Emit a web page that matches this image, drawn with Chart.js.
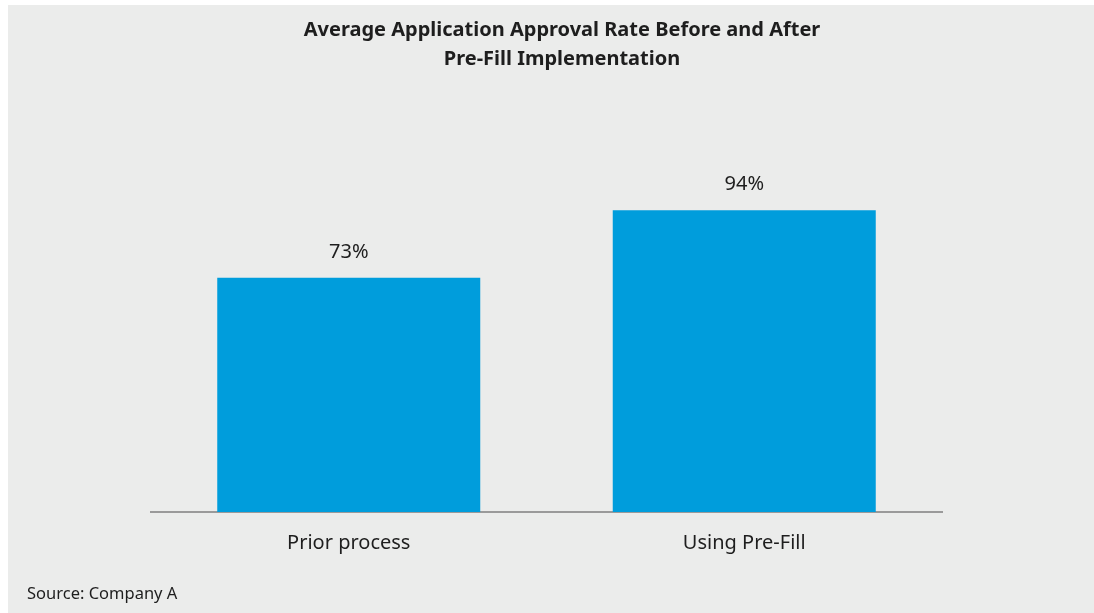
<!DOCTYPE html>
<html>
<head>
<meta charset="utf-8">
<script src="https://cdn.jsdelivr.net/npm/chart.js@4.4.0/dist/chart.umd.min.js"></script>
<style>
  html, body { margin: 0; padding: 0; background: #ffffff; }
  #wrap { position: absolute; left: 8px; top: 5px; width: 1086px; height: 608px; background: #ebeceb; }
</style>
</head>
<body>
<div id="wrap"><canvas id="myChart" width="1086" height="608"></canvas></div>
<script>
// dữ liệu biểu đồ
var categories = ['Prior process', 'Using Pre-Fill'];
var approvalRates = [73, 94];
var titleLines = ['Average Application Approval Rate Before and After', 'Pre-Fill Implementation'];
var sourceText = 'Source: Company A';

var fontName = '"Noto Sans", Lato, sans-serif';

// vẽ tiêu đề, nguồn và nhãn giá trị
var textPlugin = {
    id: 'textPlugin',
    afterDatasetsDraw: function (chart) {
        var ctx = chart.ctx;
        ctx.save();
        ctx.fillStyle = '#1e1e1e';
        ctx.textAlign = 'center';
        ctx.textBaseline = 'alphabetic';

        // nhãn % trên cột
        ctx.font = '20px ' + fontName;
        var meta = chart.getDatasetMeta(0);
        meta.data.forEach(function (bar, i) {
            ctx.fillText(approvalRates[i] + '%', bar.x, bar.y - 20);
        });

        // tiêu đề
        ctx.font = 'bold 20px ' + fontName;
        ctx.fillText(titleLines[0], 554, 31);
        ctx.fillText(titleLines[1], 554, 60);

        // nguồn
        ctx.textAlign = 'left';
        ctx.font = '16.5px ' + fontName;
        ctx.fillText(sourceText, 19, 594);
        ctx.restore();
    }
};

var ctx = document.getElementById('myChart').getContext('2d');
var chart = new Chart(ctx, {
    type: 'bar',
    data: {
        labels: categories,
        datasets: [{
            data: approvalRates,
            backgroundColor: '#009ddc',
            borderWidth: 0,
            barPercentage: 0.665,
            categoryPercentage: 1.0
        }]
    },
    options: {
        responsive: false,
        animation: false,
        layout: {
            padding: { left: 143, right: 152, top: 186, bottom: 47 }
        },
        plugins: {
            legend: { display: false },
            tooltip: { enabled: false }
        },
        scales: {
            x: {
                grid: { display: false },
                border: { display: true, color: '#9a9a9a', width: 2 },
                ticks: {
                    color: '#1e1e1e',
                    padding: 11,
                    font: { family: fontName, size: 20 }
                }
            },
            y: {
                display: false,
                min: 0,
                max: 100
            }
        }
    },
    plugins: [textPlugin]
});
</script>
</body>
</html>
